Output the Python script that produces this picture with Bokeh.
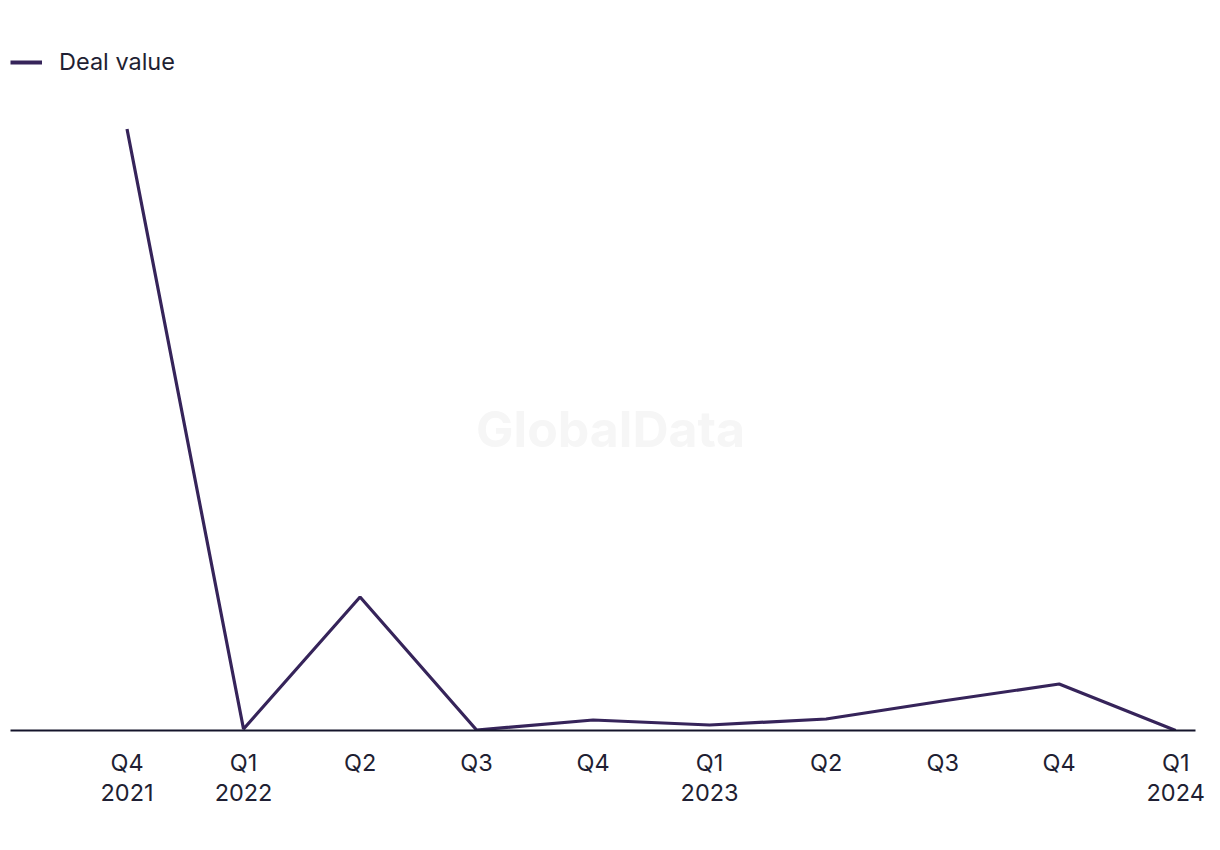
from bokeh.plotting import figure
from bokeh.models import Range1d, FixedTicker, Legend, LegendItem, Label
from bokeh.embed import file_html
from bokeh.resources import INLINE

quarters = ["Q4\n2021", "Q1\n2022", "Q2", "Q3", "Q4", "Q1\n2023", "Q2", "Q3", "Q4", "Q1\n2024"]
deal_value = [1203, 3, 267, 1, 21, 11, 23, 59, 93, 0]

xs = list(range(len(quarters)))

p = figure(width=1220, height=850, output_backend="svg", toolbar_location=None,
           x_range=Range1d(-1, 9.17), y_range=Range1d(0, 1380),
           min_border_left=10, min_border_right=25, min_border_top=40, min_border_bottom=120)
p.outline_line_color = None
p.xgrid.visible = False
p.ygrid.visible = False
p.yaxis.visible = False

font = "Inter"
ax = p.xaxis[0]
ax.ticker = FixedTicker(ticks=xs)
ax.major_label_overrides = {i: q for i, q in enumerate(quarters)}
ax.major_tick_line_color = None
ax.minor_tick_line_color = None
ax.axis_line_color = "#14142b"
ax.axis_line_width = 2
ax.major_label_text_font = font
ax.major_label_text_font_size = "23.5px"
ax.major_label_text_line_height = 1.06
ax.major_label_text_color = "#1f1f33"
ax.major_label_standoff = 11

wm = Label(x=4.15, y=(730 - 428) * 2, text="GlobalData", text_align="center", text_baseline="middle",
           text_font=font, text_font_style="bold", text_font_size="50px", text_color="#f6f6f6")
p.add_layout(wm)

r = p.line(xs, deal_value, line_color="#36245a", line_width=3.2)
r_leg = p.line([0, 0], [0, 0], line_color="#36245a", line_width=4, line_cap="butt")

legend = Legend(items=[LegendItem(label="Deal value", renderers=[r_leg])], location=(0, 654),
                padding=0, margin=0, glyph_width=32, glyph_height=20, label_standoff=17,
                label_text_font=font, label_text_font_size="23.5px", label_text_color="#1f1f33",
                background_fill_alpha=0, border_line_alpha=0)
p.add_layout(legend)

open("out.html", "w").write(file_html(p, INLINE))
